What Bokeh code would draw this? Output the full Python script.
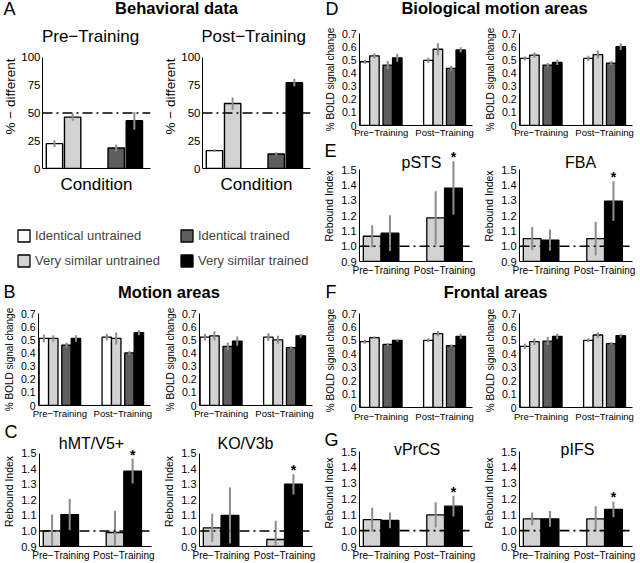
import numpy as np
from bokeh.plotting import figure
from bokeh.layouts import row, column
from bokeh.models import (Range1d, Span, Label, FixedTicker, Legend, LegendItem,
                          ColumnDataSource, Title)
from bokeh.embed import file_html
from bokeh.resources import INLINE
from bokeh.core.properties import value

FONT = "Liberation Sans"

# ---------------- data ----------------
conditions = ["Identical untrained", "Very similar untrained",
              "Identical trained", "Very similar trained"]
sessions = ["Pre\u2212Training", "Post\u2212Training"]

behav_pre = [22.4, 46.3, 18.5, 43.0]
behav_pre_err = [3.0, 3.3, 3.0, 8.0]
behav_post = [16.1, 58.5, 13.1, 77.3]
behav_post_err = [1.2, 5.5, 1.5, 3.5]

motion1_pre = [0.51, 0.51, 0.46, 0.51]
motion1_pre_err = [0.03, 0.025, 0.02, 0.025]
motion1_post = [0.52, 0.51, 0.40, 0.555]
motion1_post_err = [0.025, 0.045, 0.015, 0.02]
motion2_pre = [0.52, 0.53, 0.45, 0.49]
motion2_pre_err = [0.025, 0.035, 0.03, 0.035]
motion2_post = [0.52, 0.50, 0.44, 0.53]
motion2_post_err = [0.03, 0.03, 0.01, 0.015]

bio1_pre = [0.485, 0.53, 0.46, 0.515]
bio1_pre_err = [0.015, 0.02, 0.03, 0.03]
bio1_post = [0.495, 0.58, 0.435, 0.575]
bio1_post_err = [0.02, 0.045, 0.02, 0.02]
bio2_pre = [0.51, 0.535, 0.46, 0.48]
bio2_pre_err = [0.015, 0.02, 0.015, 0.02]
bio2_post = [0.51, 0.54, 0.475, 0.60]
bio2_post_err = [0.02, 0.03, 0.015, 0.025]

front1_pre = [0.49, 0.52, 0.47, 0.50]
front1_pre_err = [0.015, 0.01, 0.01, 0.01]
front1_post = [0.50, 0.55, 0.46, 0.53]
front1_post_err = [0.015, 0.02, 0.01, 0.02]
front2_pre = [0.455, 0.49, 0.495, 0.53]
front2_pre_err = [0.02, 0.025, 0.03, 0.02]
front2_post = [0.50, 0.54, 0.475, 0.535]
front2_post_err = [0.015, 0.02, 0.01, 0.015]

# rebound index: [very similar untrained, very similar trained]
hmt_pre = [1.00, 1.105];   hmt_pre_err = [0.105, 0.10]
hmt_post = [0.99, 1.385];  hmt_post_err = [0.14, 0.08]
ko_pre = [1.02, 1.10];     ko_pre_err = [0.09, 0.18]
ko_post = [0.945, 1.30];   ko_post_err = [0.12, 0.065]
psts_pre = [1.065, 1.085]; psts_pre_err = [0.072, 0.117]
psts_post = [1.185, 1.38]; psts_post_err = [0.175, 0.175]
fba_pre = [1.05, 1.04];    fba_pre_err = [0.075, 0.07]
fba_post = [1.05, 1.295];  fba_post_err = [0.11, 0.13]
vprcs_pre = [1.07, 1.065]; vprcs_pre_err = [0.075, 0.05]
vprcs_post = [1.10, 1.155]; vprcs_post_err = [0.08, 0.065]
pifs_pre = [1.075, 1.075]; pifs_pre_err = [0.04, 0.05]
pifs_post = [1.075, 1.135]; pifs_post_err = [0.08, 0.05]
# significance flags [pre untrained, pre trained, post untrained, post trained]
sig_post_trained = [False, False, False, True]

behav_ticks = [0, 25, 50, 75, 100]
behav_tick_labels = ["0", "25", "50", "75", "100"]
bold_ticks = [0, 0.1, 0.2, 0.3, 0.4, 0.5, 0.6, 0.7]
bold_tick_labels = ["0", "0.1", "0.2", "0.3", "0.4", "0.5", "0.6", "0.7"]
reb_ticks = [0.9, 1.0, 1.1, 1.2, 1.3, 1.4, 1.5]
reb_tick_labels = ["0.9", "1.0", "1.1", "1.2", "1.3", "1.4", "1.5"]
chance_level = 50
no_rebound = 1.0

# ---------------- styles ----------------
COLORS4 = ["#ffffff", "#d2d2d2", "#5e5e5e", "#000000"]
COLORS2 = ["#d2d2d2", "#000000"]
ERRC = "#8c8c8c"
BEHAV_POS = [1, 2, 4.4, 5.4]
OFF4 = [-0.255, -0.105, 0.105, 0.255]
OFF2 = [-0.14, 0.14]
XR = (0.66, 2.44)
DASH = "10 4 2 4"


def base_fig(width, height, bl, br, bt, bb, xr, yr):
    p = figure(width=width, height=height, x_range=Range1d(*xr), y_range=Range1d(*yr),
               output_backend="svg", toolbar_location=None, tools="", title=None,
               min_border_left=bl, min_border_right=br, min_border_top=bt,
               min_border_bottom=bb, outline_line_color=None,
               background_fill_color="white", border_fill_color="white")
    p.xgrid.visible = False
    p.ygrid.visible = False
    for ax in (p.xaxis[0], p.yaxis[0]):
        ax.axis_line_color = "black"
        ax.axis_line_width = 1
        ax.major_tick_in = 0
        ax.major_tick_out = 0
        ax.minor_tick_in = 0
        ax.minor_tick_out = 0
        ax.major_label_text_font = FONT
        ax.axis_label_text_font = FONT
        ax.axis_label_text_font_style = "normal"
        ax.major_label_text_color = "black"
        ax.axis_label_text_color = "black"
    return p


def add_label(p, x, y, text, size, align="center", style="normal"):
    p.add_layout(Label(x=x, y=y, x_units="screen", y_units="screen", text=text,
                       text_font=FONT, text_font_size=size, text_align=align,
                       text_baseline="middle", text_font_style=style,
                       text_color="black"))


def add_letter(p, letter, standoff):
    p.add_layout(Title(text=letter, align="left", offset=-35, standoff=standoff,
                       vertical_align="bottom", text_font=FONT, text_font_size="18px",
                       text_font_style="normal", text_color="black"), "above")


def blank(width, height, xr=(0, 1), yr=(0, 1)):
    p = figure(width=width, height=height, x_range=Range1d(*xr),
               y_range=Range1d(*yr), output_backend="svg",
               toolbar_location=None, tools="", title=None,
               min_border=0, min_border_left=0, min_border_right=0,
               min_border_top=0, min_border_bottom=0,
               x_axis_location=None, y_axis_location=None,
               outline_line_color=None, border_fill_color="white",
               background_fill_color="white")
    p.xgrid.visible = False
    p.ygrid.visible = False
    return p


def header(width, height, items):
    p = blank(width, height)
    for (x, y, t, size, align, style) in items:
        add_label(p, x, y, t, size, align, style)
    return p


def behav_fig(width, height, bl, br, title, tx, vals, errs):
    # frame reaches above 100 so that the subplot title sits inside it
    p = base_fig(width, height, bl, br, 2, 32, (0.34, 6.29), (0, 129.7))
    src = ColumnDataSource(dict(x=BEHAV_POS, top=vals, color=COLORS4,
                                lo=[v - e for v, e in zip(vals, errs)],
                                hi=[v + e for v, e in zip(vals, errs)]))
    p.vbar(x="x", top="top", bottom=0, width=0.9, fill_color="color",
           line_color="black", line_width=1.4, source=src)
    p.segment(x0="x", y0="lo", x1="x", y1="hi", line_color=ERRC, line_width=2, source=src)
    p.add_layout(Span(location=chance_level, dimension="width", line_color="black",
                      line_width=1.6, line_dash=DASH))
    p.yaxis.ticker = FixedTicker(ticks=behav_ticks)
    p.yaxis.major_label_overrides = dict(zip(behav_ticks, behav_tick_labels))
    p.yaxis.bounds = (behav_ticks[0], behav_ticks[-1])
    p.yaxis.major_label_text_font_size = "11.5px"
    p.yaxis.major_label_standoff = 2
    p.yaxis.axis_label = "% \u2212 different"
    p.yaxis.axis_label_text_font_size = "13.5px"
    p.yaxis.axis_label_standoff = 0
    p.xaxis.ticker = FixedTicker(ticks=[])
    p.xaxis.axis_label = "Condition"
    p.xaxis.axis_label_text_font_size = "17px"
    p.xaxis.axis_label_standoff = 6
    add_label(p, tx, 132.5, title, "17px")
    return p


def bold_fig(width, height, bl, br, bt, bb, xstand, pre, pre_err, post, post_err):
    p = base_fig(width, height, bl, br, bt, bb, XR, (0, 0.7))
    xs, tops, errs = [], [], []
    for s, (vals, ers) in enumerate([(pre, pre_err), (post, post_err)]):
        for c in range(4):
            xs.append(s + 1 + OFF4[c])
            tops.append(vals[c])
            errs.append(ers[c])
    src = ColumnDataSource(dict(x=xs, top=tops, color=COLORS4 * 2,
                                lo=[v - e for v, e in zip(tops, errs)],
                                hi=[v + e for v, e in zip(tops, errs)]))
    p.vbar(x="x", top="top", bottom=0, width=0.15, fill_color="color",
           line_color="black", line_width=1.3, source=src)
    p.segment(x0="x", y0="lo", x1="x", y1="hi", line_color=ERRC, line_width=2, source=src)
    p.yaxis.ticker = FixedTicker(ticks=bold_ticks)
    p.yaxis.major_label_overrides = dict(zip(bold_ticks, bold_tick_labels))
    p.yaxis.major_label_text_font_size = "10.5px"
    p.yaxis.major_label_standoff = 3
    p.yaxis.axis_label = "% BOLD signal change"
    p.yaxis.axis_label_text_font_size = "10px"
    p.yaxis.axis_label_standoff = 3
    p.xaxis.ticker = FixedTicker(ticks=[1, 2])
    p.xaxis.major_label_overrides = {1: sessions[0], 2: sessions[1]}
    p.xaxis.major_label_text_font_size = "9.5px"
    p.xaxis.major_label_standoff = xstand
    return p


def reb_fig(width, height, bl, br, bt, bb, ytop, pre, pre_err, post, post_err, sig,
            title, tx, ty, letter=None, standoff=0):
    p = base_fig(width, height, bl, br, bt, bb, XR, (0.9, ytop))
    xs, tops, errs = [], [], []
    for s, (vals, ers) in enumerate([(pre, pre_err), (post, post_err)]):
        for c in range(2):
            xs.append(s + 1 + OFF2[c])
            tops.append(vals[c])
            errs.append(ers[c])
    src = ColumnDataSource(dict(x=xs, top=tops, color=COLORS2 * 2,
                                lo=[v - e for v, e in zip(tops, errs)],
                                hi=[v + e for v, e in zip(tops, errs)]))
    p.vbar(x="x", top="top", bottom=0.9, width=0.28, fill_color="color",
           line_color="black", line_width=1.3, source=src)
    p.segment(x0="x", y0="lo", x1="x", y1="hi", line_color=ERRC, line_width=2, source=src)
    p.add_layout(Span(location=no_rebound, dimension="width", line_color="black",
                      line_width=1.6, line_dash=DASH))
    sx = [x for x, f in zip(xs, sig) if f]
    sy = [t + e for t, e, f in zip(tops, errs, sig) if f]
    p.text(x=sx, y=sy, text=["*"] * len(sx), text_font=value(FONT),
           text_font_size="14px", text_font_style="bold", text_align="center",
           text_baseline="middle", y_offset=-4, text_color="black")
    p.yaxis.ticker = FixedTicker(ticks=reb_ticks)
    p.yaxis.major_label_overrides = dict(zip(reb_ticks, reb_tick_labels))
    p.yaxis.bounds = (reb_ticks[0], reb_ticks[-1])
    p.yaxis.major_label_text_font_size = "11px"
    p.yaxis.major_label_standoff = 3
    p.yaxis.axis_label = "Rebound Index"
    p.yaxis.axis_label_text_font_size = "10.5px"
    p.yaxis.axis_label_standoff = 3
    p.xaxis.ticker = FixedTicker(ticks=[1, 2])
    p.xaxis.major_label_overrides = {1: sessions[0], 2: sessions[1]}
    p.xaxis.major_label_text_font_size = "10px"
    p.xaxis.major_label_standoff = 3
    add_label(p, tx, ty, title, "16px")
    if letter:
        add_letter(p, letter, standoff)
    return p


# ---------------- left column ----------------
hA = header(320, 22, [(3, 13.5, "A", "18px", "left", "normal"),
                      (176, 14.5, "Behavioral data", "16.5px", "center", "bold")])
pA1 = behav_fig(160, 178, 40, 10, sessions[0], 48, behav_pre, behav_pre_err)
pA2 = behav_fig(160, 178, 40, 10, sessions[1], 51, behav_post, behav_post_err)

leg = blank(320, 82)
rs = []
for c in range(4):
    rs.append(leg.vbar(x=np.array([np.nan]), top=np.array([np.nan]), width=0.1,
                       fill_color=COLORS4[c], line_color="black", line_width=1.3))
for idxs, loc in (([0, 1], (16, 14)), ([2, 3], (179, 14))):
    lg = Legend(items=[LegendItem(label=conditions[i], renderers=[rs[i]]) for i in idxs],
                location=loc, orientation="vertical", label_text_font=FONT,
                label_text_font_size="13px", glyph_width=15, glyph_height=15,
                label_height=15, label_standoff=4, spacing=10, padding=0, margin=0,
                border_line_alpha=0, background_fill_alpha=0)
    leg.add_layout(lg)

hB = header(320, 22, [(3, 12.5, "B", "18px", "left", "normal"),
                      (168.5, 12.5, "Motion areas", "16.5px", "center", "bold")])
pB1 = bold_fig(160, 117, 38, 10, 9, 13, 2, motion1_pre, motion1_pre_err,
               motion1_post, motion1_post_err)
pB2 = bold_fig(160, 117, 39, 8, 9, 13, 2, motion2_pre, motion2_pre_err,
               motion2_post, motion2_post_err)
pC1 = reb_fig(160, 142, 38, 9, 15, 16, 1.607, hmt_pre, hmt_pre_err, hmt_post, hmt_post_err,
              sig_post_trained, "hMT/V5+", 52, 103, "C", -10)
pC2 = reb_fig(160, 142, 39, 8, 15, 16, 1.607, ko_pre, ko_pre_err, ko_post, ko_post_err,
              sig_post_trained, "KO/V3b", 46, 103)

left = column(hA, row(pA1, pA2), leg, hB, row(pB1, pB2), row(pC1, pC2))

# ---------------- right column ----------------
hD = header(320, 24, [(5, 15.5, "D", "18px", "left", "normal"),
                      (174, 16.5, "Biological motion areas", "16.5px", "center", "bold")])
pD1 = bold_fig(158, 116, 39, 6, 9, 12, 1, bio1_pre, bio1_pre_err, bio1_post, bio1_post_err)
pD2 = bold_fig(162, 116, 41, 8, 9, 12, 1, bio2_pre, bio2_pre_err, bio2_post, bio2_post_err)
pE1 = reb_fig(158, 142, 39, 6, 10, 21, 1.626, psts_pre, psts_pre_err, psts_post,
              psts_post_err, sig_post_trained, "pSTS", 62, 99, "E", -20)
pE2 = reb_fig(162, 142, 41, 8, 10, 21, 1.626, fba_pre, fba_pre_err, fba_post, fba_post_err,
              sig_post_trained, "FBA", 61, 99)
hF = header(320, 22, [(5, 12.5, "F", "18px", "left", "normal"),
                      (175, 12.5, "Frontal areas", "16.5px", "center", "bold")])
pF1 = bold_fig(158, 120, 39, 6, 9, 16, 3, front1_pre, front1_pre_err,
               front1_post, front1_post_err)
pF2 = bold_fig(162, 120, 41, 8, 9, 16, 3, front2_pre, front2_pre_err,
               front2_post, front2_post_err)
pG1 = reb_fig(158, 139, 39, 6, 15, 17, 1.576, vprcs_pre, vprcs_pre_err, vprcs_post,
              vprcs_post_err, sig_post_trained, "vPrCS", 57.5, 97.5, "G", -20)
pG2 = reb_fig(162, 139, 41, 8, 15, 17, 1.576, pifs_pre, pifs_pre_err, pifs_post,
              pifs_post_err, sig_post_trained, "pIFS", 58, 97.5)

right = column(hD, row(pD1, pD2), row(pE1, pE2), hF, row(pF1, pF2), row(pG1, pG2))

page = row(left, right)

open("out.html", "w").write(file_html(page, INLINE))
